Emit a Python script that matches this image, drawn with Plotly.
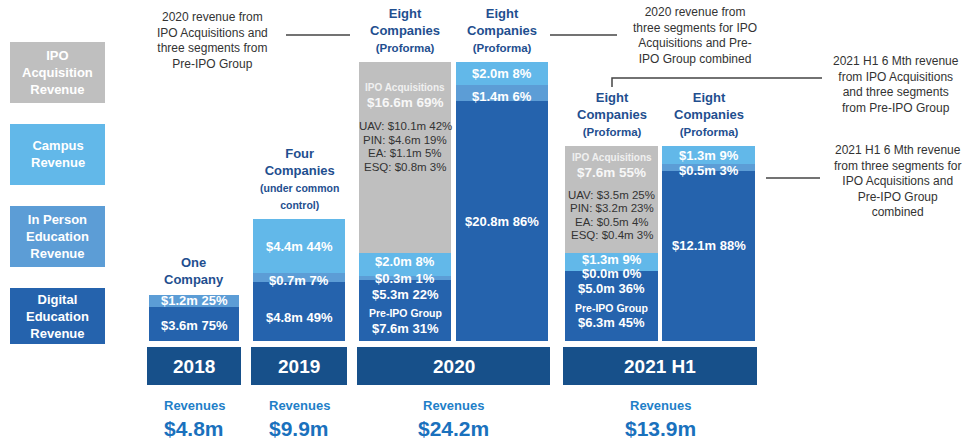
import plotly.graph_objects as go

# ---------------- data ----------------
periods = ["2018", "2019", "2020", "2021 H1"]
bar_ids = ["2018 total", "2019 total", "2020 IPO", "2020 Combined", "2021 IPO", "2021 Combined"]
bar_period = [0, 1, 2, 2, 3, 3]
headers = ["One<br>Company",
           "Four<br>Companies<br><span style='font-size:10.5px'>(under common<br>control)</span>",
           "Eight<br>Companies<br><span style='font-size:11.5px'>(Proforma)</span>",
           "Eight<br>Companies<br><span style='font-size:11.5px'>(Proforma)</span>",
           "Eight<br>Companies<br><span style='font-size:11.5px'>(Proforma)</span>",
           "Eight<br>Companies<br><span style='font-size:11.5px'>(Proforma)</span>"]

digital = [3.6, 4.8, 5.3, 20.8, 5.0, 12.1]
digital_pct = [75, 49, 22, 86, 36, 88]
in_person = [1.2, 0.7, 0.3, 1.4, 0.0, 0.5]
in_person_pct = [25, 7, 1, 6, 0, 3]
campus = [0.0, 4.4, 2.0, 2.0, 1.3, 1.3]
campus_pct = [None, 44, 8, 8, 9, 9]
ipo = [0.0, 0.0, 16.6, 0.0, 7.6, 0.0]
ipo_pct = [None, None, 69, None, 55, None]
preipo_pct = [None, None, 31, None, 45, None]

ipo_companies = ["UAV", "PIN", "EA", "ESQ"]
ipo_2020 = [10.1, 4.6, 1.1, 0.8]
ipo_2020_pct = [42, 19, 5, 3]
ipo_2021 = [3.5, 3.2, 0.5, 0.4]
ipo_2021_pct = [25, 23, 4, 3]

legend_labels = ["IPO<br>Acquisition<br>Revenue", "Campus<br>Revenue",
                 "In Person<br>Education<br>Revenue", "Digital<br>Education<br>Revenue"]

notes = ["2020 revenue from<br>IPO Acquisitions and<br>three segments from<br>Pre-IPO Group",
         "2020 revenue from<br>three segments for IPO<br>Acquisitions and Pre-<br>IPO Group combined",
         "2021 H1 6 Mth revenue<br>from IPO Acquisitions<br>and three segments<br>from Pre-IPO Group",
         "2021 H1 6 Mth revenue<br>from three segments for<br>IPO Acquisitions and<br>Pre-IPO Group<br>combined"]

# ---------------- style ----------------
FONT = "Liberation Sans, Arial, sans-serif"
C_IPO = "#bfbfbf"
C_CAMPUS = "#62b8e9"
C_INP = "#5c9dd6"
C_DIG = "#2563ad"
C_YEAR = "#17508a"
C_HEAD = "#1f4f8f"
C_REV = "#1f7fc8"
C_REVV = "#1a71bd"
C_NOTE = "#333333"

W, H = 963, 440
BASE = 341
x_domains = [(147, 241), (251, 347), (357, 550), (563, 757)]
y_max = [35.6, 27.7, 29.6, 24.3]

def px(x):
    return x / W

def py(y):
    return 1 - y / H

fig = go.Figure()
layout = {}
segments = [(digital, C_DIG), (in_person, C_INP), (campus, C_CAMPUS), (ipo, C_IPO)]
for p in range(4):
    idx = [i for i, b in enumerate(bar_period) if b == p]
    ax = "" if p == 0 else str(p + 1)
    for vals, col in segments:
        fig.add_trace(go.Bar(x=[bar_ids[i] for i in idx], y=[vals[i] for i in idx],
                             width=[0.955] * len(idx),
                             marker=dict(color=col, line=dict(width=0)),
                             xaxis="x" + ax, yaxis="y" + ax, showlegend=False,
                             hoverinfo="skip"))
    layout["xaxis" + ax] = dict(domain=[px(x_domains[p][0]), px(x_domains[p][1])],
                                anchor="y" + ax, visible=False, type="category",
                                range=[-0.5, len(idx) - 0.5], autorange=False,
                                fixedrange=True)
    layout["yaxis" + ax] = dict(domain=[(H - BASE) / H, 1], range=[0, y_max[p]],
                                autorange=False, anchor="x" + ax, visible=False,
                                fixedrange=True)

annotations = []
shapes = []

def bar_ann(i, y, text, yshift=0, size=13, color="white", bold=True, yanchor="middle"):
    p = bar_period[i]
    ax = "" if p == 0 else str(p + 1)
    annotations.append(dict(x=bar_ids[i], y=y, xref="x" + ax, yref="y" + ax,
                            text=("<b>%s</b>" % text) if bold else text,
                            showarrow=False, yshift=yshift, yanchor=yanchor,
                            xanchor="center", align="center",
                            font=dict(family=FONT, size=size, color=color)))

def paper_ann(x, y, text, size, color, bold=False):
    annotations.append(dict(x=px(x), y=py(y), xref="paper", yref="paper",
                            text=("<b>%s</b>" % text) if bold else text,
                            showarrow=False, xanchor="center", yanchor="middle",
                            align="center", font=dict(family=FONT, size=size, color=color)))

# label nudges (pixels, + = up)
shift_dig = [-2, -6, 16, 0, 17, 11]
shift_inp = [0, -3, 0, -3, -3, -3]
shift_camp = [0, 0, 3, 0, 2, 0]

for i in range(len(bar_ids)):
    c0 = 0
    c1 = digital[i]
    c2 = c1 + in_person[i]
    c3 = c2 + campus[i]
    c4 = c3 + ipo[i]
    bar_ann(i, (c0 + c1) / 2, "$%.1fm %d%%" % (digital[i], digital_pct[i]), shift_dig[i])
    bar_ann(i, (c1 + c2) / 2, "$%.1fm %d%%" % (in_person[i], in_person_pct[i]), shift_inp[i])
    if campus_pct[i] is not None:
        bar_ann(i, (c2 + c3) / 2, "$%.1fm %d%%" % (campus[i], campus_pct[i]), shift_camp[i])
    if preipo_pct[i] is not None:
        mid = (c0 + c1) / 2
        s = shift_dig[i]
        bar_ann(i, mid, "Pre-IPO Group", s - 19, size=10.5)
        bar_ann(i, mid, "$%.1fm %d%%" % (c3, preipo_pct[i]), s - 34)
    if ipo_pct[i] is not None:
        top_shift = -25 if i == 2 else -12
        bar_ann(i, c4, "IPO Acquisitions", top_shift, size=10, color="#f0f0f0")
        bar_ann(i, c4, "$%.1fm %d%%" % (ipo[i], ipo_pct[i]), top_shift - 15, size=13.5,
                color="#f7f7f7")
        vals = ipo_2020 if i == 2 else ipo_2021
        pcts = ipo_2020_pct if i == 2 else ipo_2021_pct
        start = top_shift - 39 if i == 2 else top_shift - 37
        for k, (nm, v, pc) in enumerate(zip(ipo_companies, vals, pcts)):
            bar_ann(i, c4, "%s: $%.1fm %d%%" % (nm, v, pc), start - 13.5 * k,
                    size=11.5, color=C_NOTE, bold=False)
    # header above bar
    bar_ann(i, c4, headers[i], 6, size=13, color=C_HEAD, yanchor="bottom")

# year boxes + revenues
for p in range(4):
    x0, x1 = x_domains[p]
    shapes.append(dict(type="rect", xref="paper", yref="paper", x0=px(x0), x1=px(x1),
                       y0=py(385), y1=py(347), fillcolor=C_YEAR, line=dict(width=0),
                       layer="above"))
    cx = (x0 + x1) / 2
    paper_ann(cx, 366, periods[p], 19, "white", bold=True)
    idx = [i for i, b in enumerate(bar_period) if b == p]
    total = digital[idx[0]] + in_person[idx[0]] + campus[idx[0]] + ipo[idx[0]]
    paper_ann(cx, 405, "Revenues", 13, C_REV, bold=True)
    paper_ann(cx, 428, "$%.1fm" % total, 21, C_REVV, bold=True)

# legend boxes
leg_boxes = [(42, 103, C_IPO), (124, 185, C_CAMPUS), (206, 267, C_INP), (288, 344, C_DIG)]
for (y0, y1, col), lab in zip(leg_boxes, legend_labels):
    shapes.append(dict(type="rect", xref="paper", yref="paper", x0=px(10), x1=px(105),
                       y0=py(y1), y1=py(y0), fillcolor=col, line=dict(width=0)))
    paper_ann(57.5, (y0 + y1) / 2, lab, 13, "white", bold=True)

# notes and connector lines
note_pos = [(212, 40), (695, 36), (896, 84), (897, 181)]
for (x, y), t in zip(note_pos, notes):
    paper_ann(x, y, t, 12, C_NOTE)
lines = [[(286, 35), (350, 35)], [(550, 35), (617, 35)],
         [(612, 87), (612, 78), (822, 78)], [(766, 178), (820, 178)]]
for pts in lines:
    path = "M " + " L ".join("%f,%f" % (px(a), py(b)) for a, b in pts)
    shapes.append(dict(type="path", xref="paper", yref="paper", path=path,
                       line=dict(color="#444444", width=1.5)))

fig.update_layout(**layout)
fig.update_layout(width=W, height=H, margin=dict(l=0, r=0, t=0, b=0),
                  barmode="stack", bargap=0.04, paper_bgcolor="white",
                  plot_bgcolor="white", annotations=annotations, shapes=shapes,
                  font=dict(family=FONT))
fig.write_html("out.html", config={"displayModeBar": False},
               post_script="document.body.style.margin='0px';")
